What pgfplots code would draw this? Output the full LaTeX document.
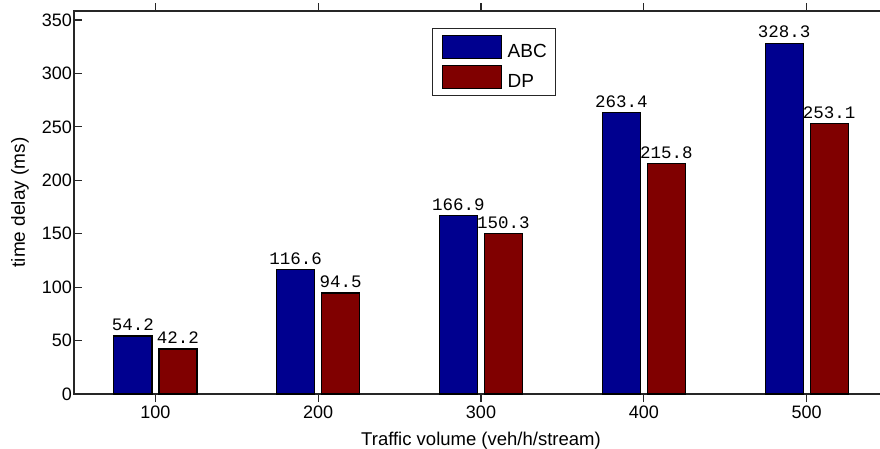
\documentclass[border=0pt]{standalone}
\usepackage{fontspec}
\setmainfont{Liberation Sans}
\newfontfamily\labelfont{Liberation Mono}
\usepackage{pgfplots}
\pgfplotsset{compat=1.18}
\definecolor{barblue}{RGB}{0,0,143}
\definecolor{barred}{RGB}{128,0,0}
% filled rectangle as legend swatch
\pgfplotsset{swatch legend/.style={legend image code/.code={%
  \draw[##1, line width=1.2pt] (0pt,-7pt) rectangle (59pt,16pt);}}}
\begin{document}
\begin{tikzpicture}
\begin{axis}[
  at={(74pt,54pt)}, anchor=south west,
  scale only axis, width=814pt, height=383pt,
  xmin=0.5, xmax=5.5, ymin=0, ymax=358.4,
  xtick={1,2,3,4,5}, xticklabels={100,200,300,400,500},
  ytick={0,50,...,350},
  tick align=inside, major tick length=8pt,
  every tick/.style={black!85, line width=1.2pt},
  axis line style={line width=1.5pt, black!85},
  tick label style={font=\fontsize{18}{20}\selectfont},
  yticklabel style={inner sep=2pt},
  /pgf/number format/assume math mode=true,
  xlabel={Traffic volume (veh/h/stream)},
  ylabel={time delay (ms)},
  xlabel style={font=\fontsize{18.5}{20}\selectfont,
    at={(axis description cs:0.5,0)}, anchor=base, yshift=-51pt},
  ylabel style={font=\fontsize{19}{21}\selectfont,
    at={(axis description cs:-0.0663,0.5)}, anchor=center},
  ybar, bar width=38pt,
  nodes near coords,
  every node near coord/.append style={font=\labelfont\fontsize{17.5}{18}\selectfont,
    /pgf/number format/fixed, /pgf/number format/precision=1,
    inner sep=2pt, yshift=2.5pt, black},
  legend style={at={(rel axis cs:0.4398,0.9556)}, anchor=north west,
    draw=black!85, line width=1pt, fill=white,
    font=\fontsize{19}{21}\selectfont,
    inner xsep=9pt, inner ysep=6.5pt, row sep=6pt,
    nodes={inner sep=0pt},
    /tikz/every odd column/.append style={column sep=6pt}},
  legend cell align=left,
]
\addplot[fill=barblue, draw=black, line width=1.2pt, bar shift=-22.5pt, swatch legend]
  coordinates {(1,54.2) (2,116.6) (3,166.9) (4,263.4) (5,328.3)};
\addplot[fill=barred, draw=black, line width=1.2pt, bar shift=22.5pt, swatch legend]
  coordinates {(1,42.2) (2,94.5) (3,150.3) (4,215.8) (5,253.1)};
\legend{ABC,DP}
\end{axis}
\pgfresetboundingbox
\path[use as bounding box] (0,0) rectangle (880pt,448pt);
\end{tikzpicture}
\end{document}
